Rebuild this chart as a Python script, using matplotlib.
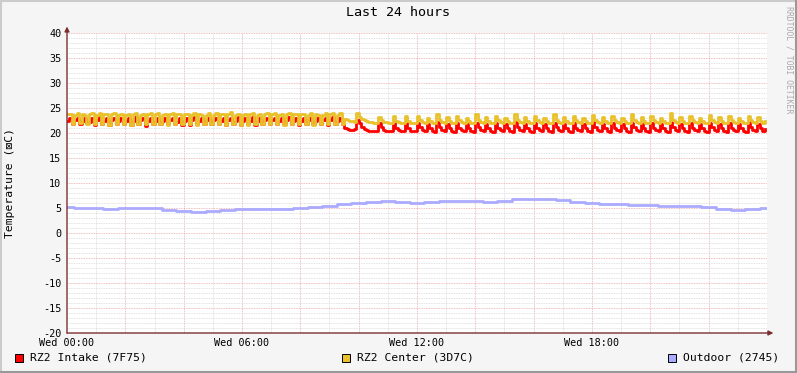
import numpy as np
import matplotlib
matplotlib.use("Agg")
import matplotlib.pyplot as plt
from matplotlib.patches import Rectangle
from matplotlib.lines import Line2D

# 5 minute samples, one row per hour
intake = [
    22.4, 23.0, 21.9, 22.6, 23.1, 21.8, 22.5, 23.0, 22.0, 22.3, 23.1, 21.7,
    22.6, 23.2, 21.8, 22.4, 23.0, 21.7, 22.6, 23.1, 21.9, 22.5, 23.0, 21.8,
    22.5, 23.0, 21.6, 22.4, 23.2, 21.8, 22.6, 23.0, 21.5, 22.4, 23.1, 21.9,
    22.4, 23.1, 21.8, 22.5, 23.0, 21.9, 22.6, 23.1, 21.8, 22.3, 23.0, 21.6,
    22.5, 23.0, 21.7, 22.6, 23.2, 21.8, 22.4, 23.0, 21.9, 22.6, 23.1, 21.8,
    22.6, 23.1, 21.8, 22.5, 23.0, 21.6, 22.6, 23.1, 21.9, 22.4, 23.2, 21.7,
    22.5, 23.0, 21.8, 22.4, 23.2, 21.7, 22.5, 23.0, 21.8, 22.6, 23.1, 21.9,
    22.6, 23.1, 21.9, 22.5, 23.0, 21.8, 22.6, 23.2, 21.9, 22.4, 23.0, 21.6,
    22.4, 23.0, 21.8, 22.6, 23.1, 21.9, 22.5, 23.0, 21.8, 22.6, 23.1, 21.7,
    22.6, 23.2, 21.9, 22.5, 23.0, 21.8, 21.0, 20.8, 20.7, 20.7, 20.8, 22.6,
    22.0, 21.2, 20.8, 20.6, 20.5, 20.5, 20.5, 20.5, 22.0, 21.2, 20.6, 20.5,
    20.5, 20.5, 22.0, 21.0, 20.6, 20.5, 20.5, 22.0, 21.0, 20.5, 20.4, 20.4,
    22.0, 21.2, 20.6, 20.4, 21.8, 21.0, 20.5, 20.3, 22.2, 21.2, 20.6, 20.4,
    21.9, 21.0, 20.5, 20.2, 22.0, 21.1, 20.6, 20.4, 21.8, 21.0, 20.4, 20.3,
    22.1, 21.2, 20.6, 20.4, 21.9, 21.0, 20.5, 20.3, 22.0, 21.1, 20.6, 20.4,
    21.8, 21.0, 20.5, 20.3, 22.2, 21.2, 20.6, 20.4, 21.9, 21.0, 20.5, 20.2,
    22.0, 21.1, 20.6, 20.4, 21.8, 21.0, 20.5, 20.3, 22.1, 21.2, 20.6, 20.4,
    21.9, 21.0, 20.5, 20.3, 22.0, 21.1, 20.6, 20.4, 21.8, 21.0, 20.5, 20.3,
    22.2, 21.2, 20.6, 20.4, 21.9, 21.0, 20.5, 20.3, 22.0, 21.1, 20.6, 20.4,
    21.8, 21.0, 20.5, 20.3, 22.1, 21.2, 20.6, 20.4, 21.9, 21.0, 20.5, 20.3,
    22.0, 21.1, 20.6, 20.4, 21.8, 21.0, 20.5, 20.2, 22.2, 21.2, 20.6, 20.4,
    21.9, 21.0, 20.5, 20.3, 22.0, 21.1, 20.6, 20.4, 21.8, 21.0, 20.5, 20.3,
    22.1, 21.2, 20.6, 20.4, 21.9, 21.0, 20.5, 20.3, 22.0, 21.1, 20.6, 20.4,
    21.8, 21.0, 20.5, 20.3, 22.2, 21.2, 20.6, 20.4, 21.9, 21.0, 20.5, 20.8,
]

center = [
    23.8, 23.9, 21.9, 23.7, 24.0, 22.0, 23.9, 23.7, 21.8, 23.8, 24.1, 21.9,
    23.7, 24.0, 21.8, 23.9, 23.8, 21.7, 23.8, 24.0, 21.9, 23.6, 23.9, 21.8,
    23.6, 23.9, 21.7, 23.8, 24.1, 21.8, 23.7, 23.9, 21.8, 23.9, 24.0, 21.9,
    23.9, 24.0, 21.9, 23.7, 23.8, 21.7, 23.9, 24.1, 21.8, 23.8, 23.9, 21.8,
    23.8, 23.9, 21.8, 23.6, 24.0, 21.7, 23.9, 23.7, 21.8, 23.7, 24.0, 21.8,
    23.7, 24.0, 21.8, 23.9, 23.8, 21.7, 23.8, 24.2, 21.9, 23.6, 23.9, 21.7,
    23.6, 23.9, 21.7, 23.8, 24.1, 21.8, 23.7, 23.9, 21.8, 23.9, 24.0, 21.9,
    23.9, 24.0, 21.9, 23.7, 23.8, 21.7, 23.9, 24.1, 21.8, 23.8, 23.9, 21.8,
    23.8, 23.9, 21.8, 23.6, 24.0, 21.7, 23.9, 23.7, 21.8, 23.7, 24.1, 21.9,
    23.8, 24.0, 21.8, 23.7, 24.1, 21.9, 22.8, 22.6, 22.5, 22.4, 22.3, 24.0,
    23.2, 22.8, 22.6, 22.4, 22.3, 22.2, 22.1, 22.1, 23.2, 22.6, 22.3, 22.2,
    22.1, 22.0, 23.4, 22.5, 22.2, 22.1, 22.0, 23.4, 22.4, 22.1, 22.0, 22.0,
    23.4, 22.6, 22.2, 22.0, 23.0, 22.4, 22.1, 22.0, 23.8, 22.6, 22.2, 22.0,
    23.2, 22.5, 22.1, 22.0, 23.4, 22.6, 22.2, 22.0, 23.0, 22.4, 22.1, 22.0,
    23.8, 22.6, 22.2, 22.0, 23.2, 22.5, 22.1, 22.0, 23.4, 22.6, 22.2, 22.0,
    23.0, 22.4, 22.1, 22.0, 23.8, 22.6, 22.2, 22.0, 23.2, 22.5, 22.1, 22.0,
    23.4, 22.6, 22.2, 22.0, 23.0, 22.4, 22.1, 22.0, 23.8, 22.6, 22.2, 22.0,
    23.2, 22.5, 22.1, 22.0, 23.4, 22.6, 22.2, 22.0, 23.0, 22.4, 22.1, 22.0,
    23.6, 22.6, 22.2, 22.0, 23.2, 22.5, 22.1, 22.0, 23.4, 22.6, 22.2, 22.0,
    23.0, 22.4, 22.1, 22.0, 23.8, 22.6, 22.2, 22.0, 23.2, 22.5, 22.1, 22.0,
    23.4, 22.6, 22.2, 22.0, 23.0, 22.4, 22.1, 22.0, 24.0, 22.6, 22.2, 22.0,
    23.2, 22.5, 22.1, 22.0, 23.4, 22.6, 22.2, 22.0, 23.0, 22.4, 22.1, 22.0,
    23.6, 22.6, 22.2, 22.0, 23.2, 22.5, 22.1, 22.0, 23.4, 22.6, 22.2, 22.0,
    23.0, 22.4, 22.1, 22.0, 23.4, 22.6, 22.2, 22.0, 23.2, 22.5, 22.1, 22.4,
]

# 30 minute samples
outdoor = [
    5.2, 5.1, 5.0, 4.9, 5.0, 5.0, 5.0, 4.7, 4.4, 4.3, 4.4, 4.6,
    4.8, 4.8, 4.8, 4.9, 5.0, 5.3, 5.5, 5.8, 6.0, 6.3, 6.4, 6.2,
    6.1, 6.3, 6.5, 6.4, 6.4, 6.3, 6.5, 6.8, 6.9, 6.8, 6.7, 6.3,
    6.0, 5.9, 5.8, 5.6, 5.6, 5.5, 5.4, 5.4, 5.2, 4.8, 4.6, 4.9, 5.0,
]

series_names = ["RZ2 Intake (7F75)", "RZ2 Center (3D7C)", "Outdoor (2745)"]
series_colors = ["#ff0000", "#e9c12b", "#aaaaff"]
x_ticks = [0, 6, 12, 18]
x_labels = ["Wed 00:00", "Wed 06:00", "Wed 12:00", "Wed 18:00"]
y_ticks = list(range(-20, 41, 5))

plt.rcParams["font.family"] = ["DejaVu Sans Mono"]

W, H = 797, 373
fig = plt.figure(figsize=(W / 100, H / 100), dpi=100, facecolor="#f5f5f5")
ax = fig.add_axes([67 / W, 40 / H, 700 / W, 300 / H])
ax.set_facecolor("white")
ax.set_xlim(0, 24)
ax.set_ylim(-20, 40)
for s in ax.spines.values():
    s.set_visible(False)

# grid
for h in range(1, 24):
    col = "#eaa8a8" if h % 2 == 0 else "#d8d8d8"
    ax.axvline(h, color=col, lw=0.6, ls=(0, (1, 1)), zorder=1)
for v in range(-19, 41):
    col = "#eaa8a8" if v % 5 == 0 else "#d8d8d8"
    ax.axhline(v, color=col, lw=0.6, ls=(0, (1, 1)), zorder=1)

t5 = np.arange(len(intake)) * 5 / 60
t30 = np.arange(len(outdoor)) * 0.5
ax.plot(t5, intake, color=series_colors[0], lw=2.0, drawstyle="steps-post", zorder=3)
ax.plot(t5, center, color=series_colors[1], lw=2.0, drawstyle="steps-post", zorder=4)
ax.plot(t30, outdoor, color=series_colors[2], lw=2.0, drawstyle="steps-mid", zorder=5)

# axes with arrows
ax.annotate("", xy=(24.22, -20), xytext=(0, -20), annotation_clip=False,
            arrowprops=dict(arrowstyle="-|>", color="#7a3030", lw=1, mutation_scale=7,
                            shrinkA=0, shrinkB=0), zorder=6)
ax.annotate("", xy=(0, 41.3), xytext=(0, -20), annotation_clip=False,
            arrowprops=dict(arrowstyle="-|>", color="#7a3030", lw=1, mutation_scale=7,
                            shrinkA=0, shrinkB=0), zorder=6)

ax.set_xticks(x_ticks)
ax.set_xticklabels(x_labels, fontsize=7.3)
ax.set_yticks(y_ticks)
ax.set_yticklabels([str(v) for v in y_ticks], fontsize=7.3)
ax.tick_params(axis="both", length=0)
ax.tick_params(axis="y", pad=4)
ax.tick_params(axis="x", pad=3.5)

fig.text(398 / W, 1 - 13 / H, "Last 24 hours", ha="center", va="center", fontsize=9.6)
fig.text(10 / W, 1 - 183 / H, "Temperature (\u22a0C)", rotation=90,
         ha="center", va="center", fontsize=8.2)
fig.text(789 / W, 1 - 6 / H, "RRDTOOL / TOBI OETIKER", rotation=270,
         ha="center", va="top", fontsize=5.9, color="#aaaaaa")

# legend
legend_x = [15, 342, 668]
for lx, name, col in zip(legend_x, series_names, series_colors):
    fig.add_artist(Rectangle((lx / W, 1 - 362 / H), 8 / W, 8 / H, transform=fig.transFigure,
                             facecolor=col, edgecolor="black", lw=0.7))
    fig.text((lx + 15) / W, 1 - 358 / H, name, ha="left", va="center", fontsize=8.2)

# frame shading
fig.add_artist(Line2D([0, 1], [1 - 1 / H, 1 - 1 / H], transform=fig.transFigure, color="#cbcbcb", lw=1.5))
fig.add_artist(Line2D([1 / W, 1 / W], [0, 1], transform=fig.transFigure, color="#cbcbcb", lw=1.5))
fig.add_artist(Line2D([0, 1], [1 / H, 1 / H], transform=fig.transFigure, color="#999999", lw=1.5))
fig.add_artist(Line2D([1 - 1 / W, 1 - 1 / W], [0, 1], transform=fig.transFigure, color="#999999", lw=1.5))

fig.savefig("out.png", dpi=100, facecolor=fig.get_facecolor())
